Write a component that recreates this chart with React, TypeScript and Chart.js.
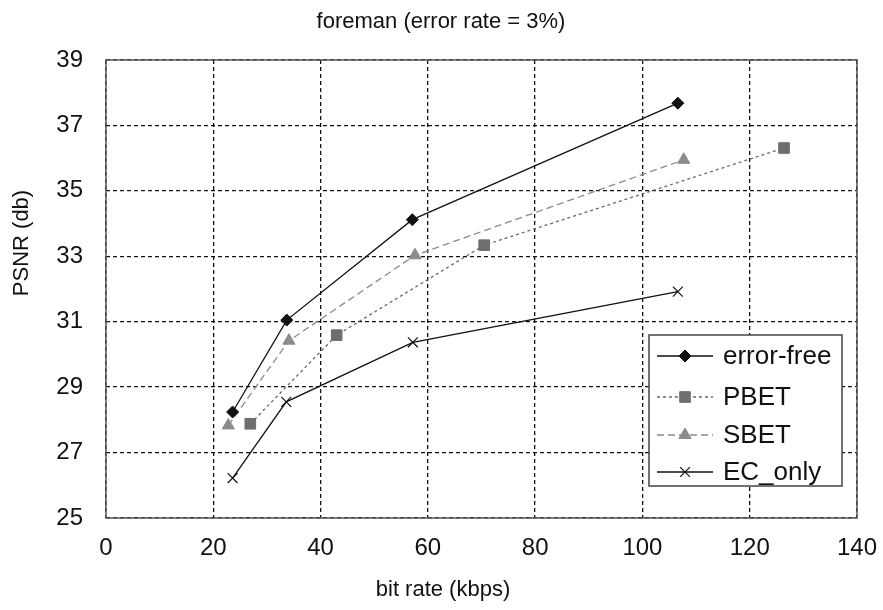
import React, { useEffect, useRef } from "react";
import { Chart, registerables } from "chart.js";

Chart.register(...registerables);

const TITLE = "foreman (error rate = 3%)";
const X_TITLE = "bit rate (kbps)";
const Y_TITLE = "PSNR (db)";

const seriesNames = ["error-free", "PBET", "SBET", "EC_only"];

const errorFreeX = [23.6, 33.7, 57.1, 106.6];
const errorFreeY = [28.24, 31.05, 34.12, 37.68];

const pbetX = [26.9, 43.0, 70.5, 126.4];
const pbetY = [27.88, 30.59, 33.34, 36.31];

const sbetX = [22.8, 34.1, 57.6, 107.7];
const sbetY = [27.83, 30.42, 33.03, 35.95];

const ecOnlyX = [23.6, 33.6, 57.2, 106.6];
const ecOnlyY = [26.22, 28.55, 30.37, 31.92];

const xTicks = [0, 20, 40, 60, 80, 100, 120, 140];
const yTicks = [25, 27, 29, 31, 33, 35, 37, 39];

const toPoints = (xs: number[], ys: number[]) => xs.map((x, i) => ({ x, y: ys[i] }));

const FONT = "'Liberation Sans', Arial, sans-serif";

function drawMarker(ctx: CanvasRenderingContext2D, style: string, r: number, x: number, y: number) {
  ctx.beginPath();
  if (style === "rectRot") {
    ctx.moveTo(x, y - r);
    ctx.lineTo(x + r, y);
    ctx.lineTo(x, y + r);
    ctx.lineTo(x - r, y);
    ctx.closePath();
    ctx.fill();
    ctx.stroke();
  } else if (style === "rect") {
    const s = r * Math.SQRT1_2;
    ctx.rect(x - s, y - s, 2 * s, 2 * s);
    ctx.fill();
    ctx.stroke();
  } else if (style === "triangle") {
    const h = r * 1.5;
    const w = r * Math.sqrt(3);
    ctx.moveTo(x, y - r);
    ctx.lineTo(x + w / 2, y - r + h);
    ctx.lineTo(x - w / 2, y - r + h);
    ctx.closePath();
    ctx.fill();
    ctx.stroke();
  } else if (style === "crossRot") {
    const s = r * Math.SQRT1_2;
    ctx.moveTo(x - s, y - s);
    ctx.lineTo(x + s, y + s);
    ctx.moveTo(x - s, y + s);
    ctx.lineTo(x + s, y - s);
    ctx.stroke();
  }
}

const decorPlugin = {
  id: "decor",
  beforeDatasetsDraw(chart: any) {
    const { ctx, chartArea } = chart;
    ctx.save();
    ctx.strokeStyle = "#555";
    ctx.lineWidth = 1.5;
    ctx.setLineDash([]);
    ctx.strokeRect(chartArea.left, chartArea.top, chartArea.right - chartArea.left, chartArea.bottom - chartArea.top);
    ctx.restore();
  },
  afterDraw(chart: any) {
    const { ctx } = chart;
    ctx.save();
    ctx.fillStyle = "#111";
    ctx.font = `22px ${FONT}`;
    ctx.textAlign = "center";
    ctx.textBaseline = "middle";
    ctx.fillText(TITLE, 441, 22);
    ctx.fillText(X_TITLE, 443, 590);
    ctx.save();
    ctx.translate(22, 243);
    ctx.rotate(-Math.PI / 2);
    ctx.fillText(Y_TITLE, 0, 0);
    ctx.restore();

    const bx = 649, by = 335, bw = 193, bh = 151;
    ctx.fillStyle = "#fff";
    ctx.fillRect(bx, by, bw, bh);
    ctx.strokeStyle = "#444";
    ctx.lineWidth = 1.5;
    ctx.setLineDash([]);
    ctx.strokeRect(bx, by, bw, bh);
    const rows = [356, 397, 435, 472];
    chart.data.datasets.forEach((ds: any, i: number) => {
      const y = rows[i];
      ctx.save();
      ctx.strokeStyle = ds.borderColor;
      ctx.lineWidth = ds.borderWidth;
      ctx.setLineDash(ds.borderDash || []);
      ctx.beginPath();
      ctx.moveTo(657, y);
      ctx.lineTo(713, y);
      ctx.stroke();
      ctx.restore();
      ctx.save();
      ctx.setLineDash([]);
      ctx.fillStyle = ds.pointBackgroundColor;
      ctx.strokeStyle = ds.pointBorderColor;
      ctx.lineWidth = ds.pointBorderWidth;
      drawMarker(ctx, ds.pointStyle, ds.pointRadius, 685, y);
      ctx.restore();
      ctx.fillStyle = "#111";
      ctx.font = `26px ${FONT}`;
      ctx.textAlign = "left";
      ctx.textBaseline = "middle";
      ctx.fillText(ds.label, 723, y + 1);
    });
    ctx.restore();
  },
};

export default function App() {
  const canvasRef = useRef<HTMLCanvasElement | null>(null);

  useEffect(() => {
    const canvas = canvasRef.current;
    if (!canvas) return;
    const common = { showLine: true, fill: false, tension: 0, borderWidth: 1.3 };
    const chart = new Chart(canvas, {
      type: "scatter",
      data: {
        datasets: [
          {
            ...common,
            label: seriesNames[0],
            data: toPoints(errorFreeX, errorFreeY),
            borderColor: "#111",
            pointBackgroundColor: "#111",
            pointBorderColor: "#111",
            pointBorderWidth: 1,
            pointStyle: "rectRot",
            pointRadius: 6,
          },
          {
            ...common,
            label: seriesNames[1],
            data: toPoints(pbetX, pbetY),
            borderColor: "#6a6a6a",
            borderDash: [3, 3],
            pointBackgroundColor: "#6e6e6e",
            pointBorderColor: "#6e6e6e",
            pointBorderWidth: 1,
            pointStyle: "rect",
            pointRadius: 7.5,
          },
          {
            ...common,
            label: seriesNames[2],
            data: toPoints(sbetX, sbetY),
            borderColor: "#8a8a8a",
            borderDash: [7, 4],
            pointBackgroundColor: "#8c8c8c",
            pointBorderColor: "#8c8c8c",
            pointBorderWidth: 1,
            pointStyle: "triangle",
            pointRadius: 7,
          },
          {
            ...common,
            label: seriesNames[3],
            data: toPoints(ecOnlyX, ecOnlyY),
            borderColor: "#111",
            pointBackgroundColor: "#111",
            pointBorderColor: "#111",
            pointBorderWidth: 1.2,
            pointStyle: "crossRot",
            pointRadius: 7,
          },
        ],
      },
      options: {
        responsive: false,
        animation: false,
        devicePixelRatio: 1,
        layout: { padding: { top: 60, right: 26, left: 0, bottom: 0 } },
        plugins: { legend: { display: false }, title: { display: false }, tooltip: { enabled: false } },
        scales: {
          x: {
            type: "linear",
            min: 0,
            max: 140,
            afterFit: (s: any) => { s.height = 92; s.paddingLeft = 0; s.paddingRight = 0; },
            afterBuildTicks: (s: any) => { s.ticks = xTicks.map((v) => ({ value: v })); },
            ticks: { color: "#111", font: { family: FONT, size: 24 }, padding: 16, maxRotation: 0 },
            grid: { color: "#111", lineWidth: 1.3, drawTicks: false } as any,
            border: { display: false, dash: [4, 3] },
          },
          y: {
            type: "linear",
            min: 25,
            max: 39,
            afterFit: (s: any) => { s.width = 106; s.paddingTop = 0; s.paddingBottom = 0; },
            afterBuildTicks: (s: any) => { s.ticks = yTicks.map((v) => ({ value: v })); },
            ticks: { color: "#111", font: { family: FONT, size: 24 }, padding: 23 },
            grid: { color: "#111", lineWidth: 1.3, drawTicks: false } as any,
            border: { display: false, dash: [4, 3] },
          },
        },
      } as any,
      plugins: [decorPlugin],
    });
    return () => chart.destroy();
  }, []);

  return (
    <div style={{ position: "absolute", left: 0, top: 0, width: 883, height: 610, background: "#fff" }}>
      <canvas ref={canvasRef} width={883} height={610} />
    </div>
  );
}
